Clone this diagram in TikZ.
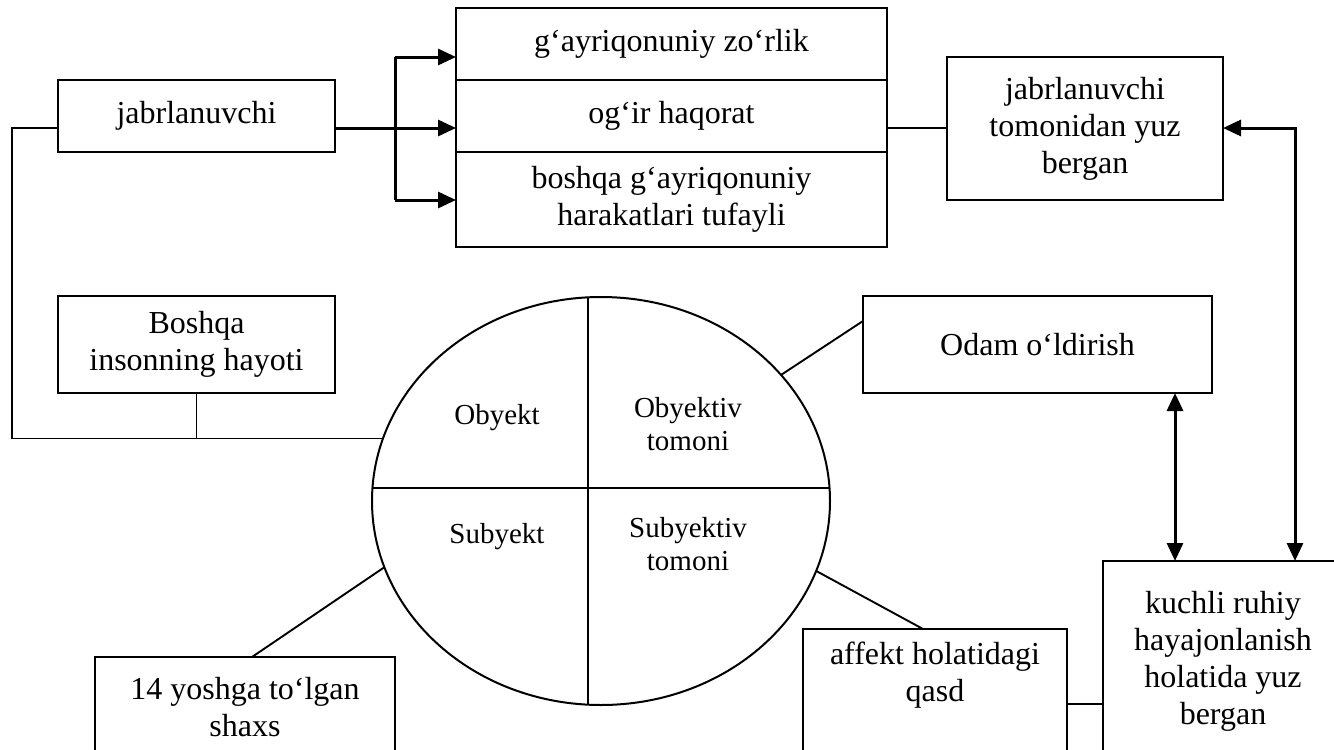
\documentclass[tikz,border=0pt]{standalone}
\usepackage{fontspec}
\setmainfont{Liberation Serif}
\usetikzlibrary{arrows.meta,shapes.geometric}
\tikzset{
  box/.style={draw,line width=2pt,rectangle,inner sep=0pt,outer sep=0pt,align=center,
    font=\fontsize{32}{37}\selectfont},
  txt/.style={inner sep=0pt,align=center,font=\fontsize{32}{37}\selectfont},
  etxt/.style={inner sep=0pt,align=center,font=\fontsize{29}{33}\selectfont},
  conn/.style={line width=1.9pt},
  tip/.tip={Triangle[length=18pt,width=16pt]},
  arr/.style={line width=3pt,-tip},
  darr/.style={line width=3pt,tip-tip}
}
\begin{document}
\begin{tikzpicture}[x=1pt,y=-1pt]
\useasboundingbox (0,0) rectangle (1334,750);
\clip (0,0) rectangle (1334,750);
\fill[white] (0,0) rectangle (1334,750);

% top row
\node[box,minimum width=277pt,minimum height=72pt] (jabr) at (196.5,116) {jabrlanuvchi};
\node[box,minimum width=431pt,minimum height=72pt] (s1) at (671.5,44) {g‘ayriqonuniy zo‘rlik};
\node[box,minimum width=431pt,minimum height=72pt] (s2) at (671.5,116) {og‘ir haqorat};
\node[box,minimum width=431pt,minimum height=95pt] (s3) at (671.5,199.5) {boshqa g‘ayriqonuniy\\harakatlari tufayli};
\node[box,minimum width=276pt,minimum height=143pt] (rbox) at (1085,128.5) {jabrlanuvchi\\tomonidan yuz\\bergan};

% middle
\node[box,minimum width=277pt,minimum height=97pt] (bosh) at (196.5,344.5) {Boshqa\\insonning hayoti};
\node[box,minimum width=349pt,minimum height=97pt] (odam) at (1037.5,344.5) {Odam o‘ldirish};

% ellipse
\node[draw,ellipse,line width=2pt,minimum width=458pt,minimum height=408pt,inner sep=0pt,outer sep=0pt] (E) at (601,501) {};
\draw[line width=2pt] (372.6,488) -- (829.4,488);
\draw[line width=2pt] (588,297.3) -- (588,704.7);
\node[etxt] (ob) at (497,418) {Obyekt};
\node[etxt] (obt) at (688,424) {Obyektiv\\tomoni};
\node[etxt] (sub) at (497,537) {Subyekt};
\node[etxt] (subt) at (688,544) {Subyektiv\\tomoni};

% bottom boxes
\node[box,minimum width=300pt,minimum height=100pt] (yosh) at (245,707) {14 yoshga to‘lgan\\shaxs};
\node[box,minimum width=264pt,minimum height=160pt,anchor=north west] (aff) at (803,629) {};
\node[txt] (afftxt) at (935,675) {affekt holatidagi\\qasd};
\node[box,minimum width=240pt,minimum height=200pt,anchor=north west] (kuch) at (1103,561) {kuchli ruhiy\\hayajonlanish\\holatida yuz\\bergan};

% helper coordinates
\coordinate (r) at (0,128);
\coordinate (br) at (395,0);
\coordinate (a1) at (0,57);
\coordinate (a3) at (0,200);
\coordinate (L1) at (12,128);
\coordinate (EL) at (E.164.67);
\coordinate (cR) at (1295,128);
\coordinate (cD) at (1175,0);
\coordinate (cO) at (0,321);
\coordinate (cY) at (252,0);
\coordinate (cA) at (923,0);
\coordinate (cK) at (0,704);

% arrows from jabrlanuvchi
\draw[arr] (jabr.east |- r) -- (s2.west |- r);
\draw[line width=3pt] (br |- a1) -- (br |- a3);
\draw[arr] (br |- a1) -- (s1.west |- a1);
\draw[arr] (br |- a3) -- (s3.west |- a3);

% stack to right box
\draw[conn] (s2.east |- r) -- (rbox.west |- r);

% right long double arrow
\draw[darr] (rbox.east |- cR) -- (cR) -- (kuch.north -| cR);

% odam to kuchli
\draw[darr] (odam.south -| cD) -- (kuch.north -| cD);

% left loop
\draw[conn] (jabr.west |- r) -- (L1) -- (L1 |- EL) -- (EL);
\draw[conn] (bosh.south) -- (bosh.south |- EL);

% ellipse connectors
\draw[conn] (E.35.72) -- (odam.west |- cO);
\draw[conn] (E.197.7) -- (yosh.north -| cY);
\draw[conn] (E.342.8) -- (aff.north -| cA);
\draw[conn] (aff.east |- cK) -- (kuch.west |- cK);
\end{tikzpicture}
\end{document}
